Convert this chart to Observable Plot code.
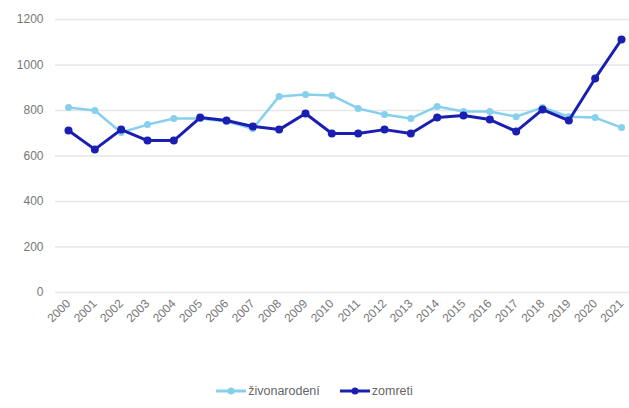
<!DOCTYPE html>
<html><head><meta charset="utf-8">
<script src="https://cdn.jsdelivr.net/npm/d3@7"></script>
<script src="https://cdn.jsdelivr.net/npm/@observablehq/plot@0.6"></script>
<style>
body{margin:0;background:#fff;font-family:"Liberation Sans",Arial,sans-serif;}
#legend{display:flex;justify-content:center;gap:20px;font-size:12.5px;color:#666;margin-top:16px;}
.it{display:flex;align-items:center;gap:2px;}
</style></head>
<body>
<div id="chart"></div>
<div id="legend"></div>
<script>
const years = [2000,2001,2002,2003,2004,2005,2006,2007,2008,2009,2010,2011,2012,2013,2014,2015,2016,2017,2018,2019,2020,2021];
const zivonarodeni = [813,800,703,738,765,765,752,720,862,870,866,809,782,765,818,796,796,773,813,773,769,725];
const zomreti = [712,629,716,668,668,769,756,730,716,787,699,699,716,699,769,778,760,708,804,756,941,1112];
const seriesNames = ["živonarodení","zomreti"];
const colors = ["#86d0ee","#1a1fb2"];
const yTicks = [0,200,400,600,800,1000,1200];

const data = [];
years.forEach((y,i)=>{
  data.push({year:y, value:zivonarodeni[i], s:seriesNames[0]});
  data.push({year:y, value:zomreti[i], s:seriesNames[1]});
});

const plot = Plot.plot({
  width:629, height:368,
  marginLeft:55, marginRight:0, marginTop:19, marginBottom:76,
  insetLeft:13, insetRight:8,
  style:{fontFamily:"Liberation Sans, Arial, sans-serif", fontSize:"12px", color:"#777"},
  x:{type:"linear", domain:[2000,2021], ticks:years, tickFormat:d=>String(d), label:null, tickSize:0, tickRotate:-45, tickPadding:9},
  y:{domain:[0,1200], ticks:yTicks, tickFormat:d3.format("d"), label:null, tickSize:0, tickPadding:12, grid:false},
  color:{domain:seriesNames, range:colors},
  marks:[
    Plot.ruleY(yTicks,{stroke:"#e6e6e6", strokeWidth:1.5}),
    Plot.line(data.filter(d=>d.s===seriesNames[0]),{x:"year",y:"value",stroke:colors[0],strokeWidth:2.5}),
    Plot.dot(data.filter(d=>d.s===seriesNames[0]),{x:"year",y:"value",fill:colors[0],r:3.5}),
    Plot.line(data.filter(d=>d.s===seriesNames[1]),{x:"year",y:"value",stroke:colors[1],strokeWidth:3}),
    Plot.dot(data.filter(d=>d.s===seriesNames[1]),{x:"year",y:"value",fill:colors[1],r:4})
  ]
});
document.getElementById("chart").appendChild(plot);

const lg = document.getElementById("legend");
seriesNames.forEach((n,i)=>{
  const it = document.createElement("div"); it.className="it";
  it.innerHTML = `<svg width="30" height="10"><line x1="0" x2="30" y1="5" y2="5" stroke="${colors[i]}" stroke-width="3"/><circle cx="15" cy="5" r="3.5" fill="${colors[i]}"/></svg><span>${n}</span>`;
  lg.appendChild(it);
});
</script>
</body></html>
